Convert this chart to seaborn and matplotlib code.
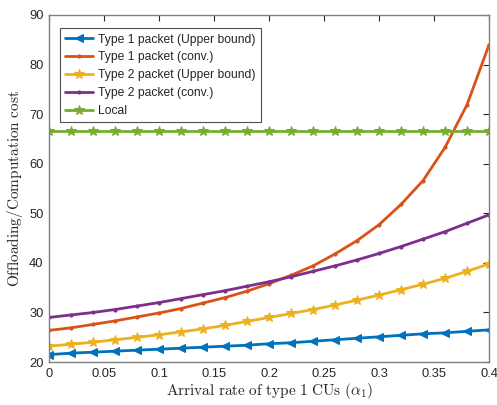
import numpy as np
import pandas as pd
import matplotlib
matplotlib.use("Agg")
import matplotlib.pyplot as plt
import seaborn as sns

# Arrival rate of type 1 CUs
alpha1 = [0.00, 0.02, 0.04, 0.06, 0.08, 0.10, 0.12, 0.14, 0.16, 0.18, 0.20,
          0.22, 0.24, 0.26, 0.28, 0.30, 0.32, 0.34, 0.36, 0.38, 0.40]

type1_upper = [21.5, 21.8, 22.0, 22.2, 22.4, 22.6, 22.8, 23.0, 23.2, 23.4, 23.7,
               23.9, 24.2, 24.5, 24.8, 25.1, 25.4, 25.7, 25.9, 26.2, 26.5]
type1_conv = [26.4, 26.9, 27.6, 28.3, 29.1, 29.9, 30.8, 31.9, 33.0, 34.3, 35.8,
              37.5, 39.4, 41.8, 44.5, 47.7, 51.8, 56.6, 63.3, 71.9, 84.0]
type2_upper = [23.2, 23.6, 24.0, 24.5, 25.0, 25.5, 26.1, 26.7, 27.4, 28.2, 29.0,
               29.8, 30.6, 31.5, 32.5, 33.5, 34.6, 35.7, 36.9, 38.3, 39.8]
type2_conv = [29.0, 29.5, 30.0, 30.6, 31.3, 32.0, 32.8, 33.6, 34.4, 35.3, 36.2,
              37.2, 38.3, 39.4, 40.6, 41.9, 43.3, 44.8, 46.3, 48.0, 49.7]
local = [66.7] * len(alpha1)

series_names = ["Type 1 packet (Upper bound)", "Type 1 packet (conv.)",
                "Type 2 packet (Upper bound)", "Type 2 packet (conv.)", "Local"]
series_values = [type1_upper, type1_conv, type2_upper, type2_conv, local]

x_ticks = [0, 0.05, 0.1, 0.15, 0.2, 0.25, 0.3, 0.35, 0.4]
x_tick_labels = ["0", "0.05", "0.1", "0.15", "0.2", "0.25", "0.3", "0.35", "0.4"]
y_ticks = [20, 30, 40, 50, 60, 70, 80, 90]

colors = ["#0072BD", "#D95319", "#EDB120", "#7E2F8E", "#77AC30"]
markers = ["<", ".", "*", ".", "*"]
msizes = [6, 4.5, 7, 4.5, 7]

sns.set_style("white")
plt.rcParams["font.family"] = ["Liberation Sans", "DejaVu Sans"]
plt.rcParams["mathtext.fontset"] = "cm"

fig = plt.figure(figsize=(4.97, 4.05), dpi=100)
ax = fig.add_axes([0.0986, 0.106, 0.8854, 0.857])

for name, vals, c, m, ms in zip(series_names, series_values, colors, markers, msizes):
    df = pd.DataFrame({"alpha": alpha1, "cost": vals})
    sns.lineplot(data=df, x="alpha", y="cost", ax=ax, color=c, marker=m,
                 markersize=ms, markeredgecolor=c, markerfacecolor=c,
                 linewidth=2, label=name)

ax.set_xlim(0, 0.4)
ax.set_ylim(20, 90)
ax.set_xticks(x_ticks)
ax.set_xticklabels(x_tick_labels)
ax.set_yticks(y_ticks)
ax.tick_params(direction="in", length=4, width=0.8, colors="#262626",
               labelsize=9.3, top=True, right=True, labelcolor="#262626", pad=4)

for s in ax.spines.values():
    s.set_visible(True)
    s.set_color("#808080")
    s.set_linewidth(1.0)

ax.set_xlabel(r"$\mathrm{Arrival\ rate\ of\ type\ 1\ CUs\ (}\alpha_1\mathrm{)}$",
              fontsize=11, color="#262626", labelpad=1)
ax.set_ylabel(r"$\mathrm{Offloading/Computation\ cost}$",
              fontsize=11, color="#262626", labelpad=3)

leg = ax.legend(loc="upper left", bbox_to_anchor=(0.025, 0.962), borderaxespad=0,
                frameon=True, fancybox=False, edgecolor="#262626", fontsize=8.7,
                handlelength=2.3, borderpad=0.45, labelspacing=0.48,
                handletextpad=0.4)
leg.get_frame().set_linewidth(0.8)

fig.savefig("out.png", dpi=100)
